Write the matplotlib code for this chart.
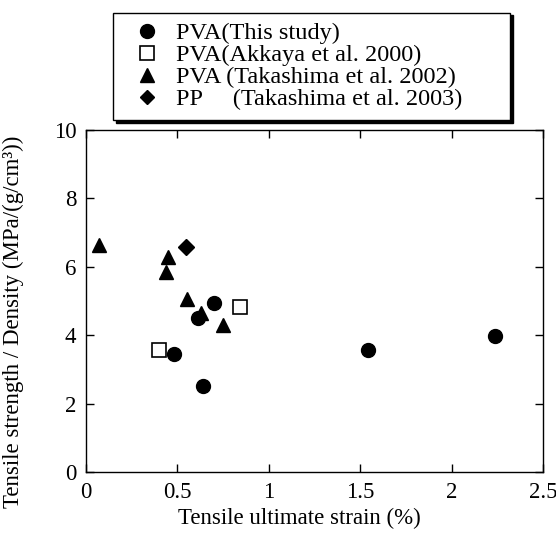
import matplotlib
matplotlib.use("Agg")
import matplotlib.pyplot as plt
from matplotlib.lines import Line2D

# ── Data ───────────────────────────────────────────────────
pva_this_x = [0.48, 0.61, 0.64, 0.70, 1.54, 2.24]
pva_this_y = [3.45, 4.49, 2.51, 4.95, 3.57, 3.99]

pva_akkaya_x = [0.40, 0.84]
pva_akkaya_y = [3.58, 4.82]

pva_taka_x = [0.07, 0.45, 0.44, 0.55, 0.63, 0.75]
pva_taka_y = [6.64, 6.30, 5.86, 5.06, 4.64, 4.30]

pp_taka_x = [0.545]
pp_taka_y = [6.59]

legend_labels = [
    "PVA(This study)",
    "PVA(Akkaya et al. 2000)",
    "PVA (Takashima et al. 2002)",
    "PP     (Takashima et al. 2003)",
]

plt.rcParams.update({
    "font.family": ["Liberation Serif", "DejaVu Serif"],
    "font.size": 16.5,
    "xtick.direction": "in",
    "ytick.direction": "in",
    "xtick.top": True,
    "ytick.right": True,
})

fig = plt.figure(figsize=(5.56, 5.34), dpi=100)
ax = fig.add_axes([0.1547, 0.1161, 0.8219, 0.6405])

ax.plot(pva_taka_x, pva_taka_y, "^", color="black", ms=10, ls="none", zorder=2)
ax.plot(pp_taka_x, pp_taka_y, "D", color="black", ms=8, ls="none", zorder=2)
ax.plot(pva_this_x, pva_this_y, "o", color="black", ms=10, ls="none", zorder=3)
ax.plot(pva_akkaya_x, pva_akkaya_y, "s", mfc="white", mec="black", mew=1.2,
        ms=9.4, ls="none", zorder=3)

ax.set_xlim(0, 2.5)
ax.set_ylim(0, 10)
ax.set_xticks([0, 0.5, 1, 1.5, 2, 2.5])
ax.set_xticklabels(["0", "0.5", "1", "1.5", "2", "2.5"])
ax.set_yticks([0, 2, 4, 6, 8, 10])
ax.tick_params(length=6, width=1, pad=7)
for s in ax.spines.values():
    s.set_linewidth(1.0)

ax.set_xlabel("Tensile ultimate strain (%)")
ax.set_ylabel("Tensile strength / Density (MPa/(g/cm\u00b3))", fontsize=16.5)
ax.xaxis.set_label_coords(0.466, -0.105)
ax.yaxis.set_label_coords(-0.135, 0.44)

# ── Legend above the axes ──────────────────────────────────
handles = [
    Line2D([], [], marker="o", color="black", ls="none", ms=10),
    Line2D([], [], marker="s", mfc="white", mec="black", mew=1.2, ls="none", ms=9.4),
    Line2D([], [], marker="^", color="black", ls="none", ms=10),
    Line2D([], [], marker="D", color="black", ls="none", ms=7.5),
]
x0, x1 = 113 / 556, 510 / 556
y0, y1 = 1 - 120 / 534, 1 - 13 / 534
leg = fig.legend(handles, legend_labels, loc="lower left",
                 bbox_to_anchor=(x0, y0, x1 - x0, y1 - y0), mode="expand",
                 borderaxespad=0, fontsize=17.5, labelspacing=0.0,
                 handletextpad=0.2, handlelength=2.0, borderpad=0.4,
                 fancybox=False, shadow={"color": "black", "alpha": 1.0, "ox": 2, "oy": -2},
                 framealpha=1, edgecolor="black")
leg.get_frame().set_linewidth(1.0)

fig.savefig("out.png", dpi=100)
